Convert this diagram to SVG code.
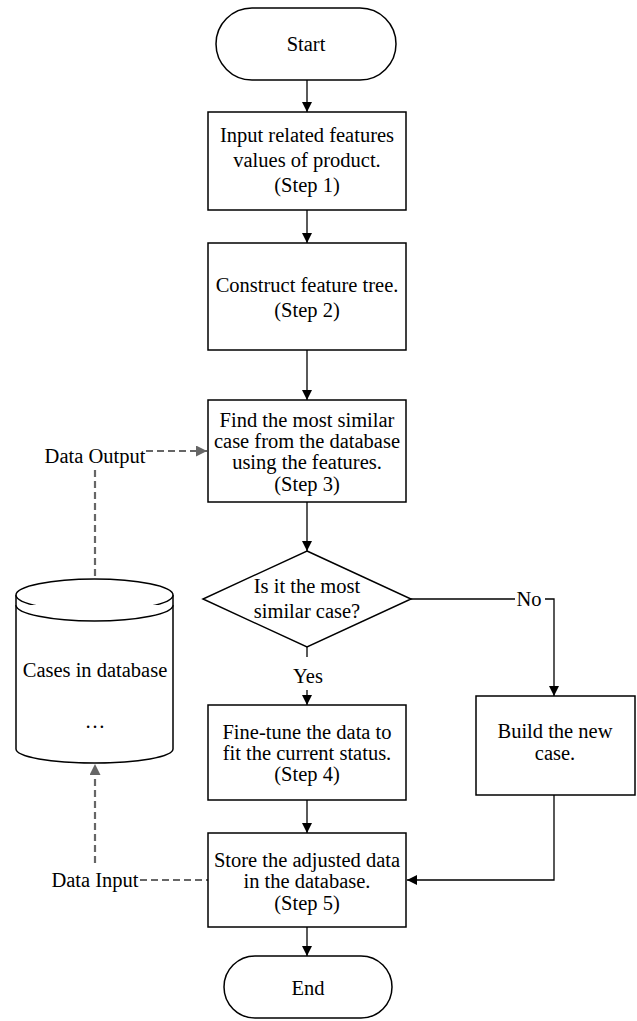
<svg xmlns="http://www.w3.org/2000/svg" width="637" height="1021" viewBox="0 0 637 1021">
  <style>
    .shape { fill: #ffffff; stroke: #000000; stroke-width: 1.5; }
    .txt { font-size: 20.5px; fill: #000000; text-anchor: middle; }
    .flow { fill: none; stroke: #000000; stroke-width: 1.3; }
    .data { fill: none; stroke: #666666; stroke-width: 2.2; stroke-dasharray: 7 4; }
  </style>
  <defs>
    <marker id="arrow" viewBox="0 0 10 10" refX="10" refY="5" markerWidth="10" markerHeight="10" markerUnits="userSpaceOnUse" orient="auto">
      <path d="M0,0 L10,5 L0,10 z" fill="#000000"/>
    </marker>
    <marker id="arrowGray" viewBox="0 0 10 10" refX="10" refY="5" markerWidth="11" markerHeight="11" markerUnits="userSpaceOnUse" orient="auto">
      <path d="M0,0 L10,5 L0,10 z" fill="#666666"/>
    </marker>
  </defs>
  <rect width="637" height="1021" fill="#ffffff"/>

  <g font-family="'Liberation Serif', 'DejaVu Serif', 'Times New Roman', serif">
  <!-- connectors -->
  <g id="connectors">
    <line class="flow" x1="307" y1="80" x2="307" y2="112" marker-end="url(#arrow)"/>
    <line class="flow" x1="307" y1="210" x2="307" y2="243" marker-end="url(#arrow)"/>
    <line class="flow" x1="307" y1="350" x2="307" y2="400" marker-end="url(#arrow)"/>
    <line class="flow" x1="307" y1="502" x2="307" y2="551" marker-end="url(#arrow)"/>
    <line class="flow" x1="307" y1="647" x2="307" y2="657"/>
    <text class="txt" x="308" y="683">Yes</text>
    <line class="flow" x1="307" y1="690" x2="307" y2="705" marker-end="url(#arrow)"/>
    <line class="flow" x1="307" y1="800" x2="307" y2="833" marker-end="url(#arrow)"/>
    <line class="flow" x1="307" y1="927" x2="307" y2="956" marker-end="url(#arrow)"/>
    <line class="flow" x1="411" y1="599" x2="515" y2="599"/>
    <text class="txt" x="529" y="606">No</text>
    <polyline class="flow" points="545,599 554,599 554,696" marker-end="url(#arrow)"/>
    <polyline class="flow" points="554,795 554,880 407,880" marker-end="url(#arrow)"/>
    <!-- database links -->
    <line class="data" x1="146" y1="451" x2="207" y2="451" marker-end="url(#arrowGray)"/>
    <text class="txt" x="95" y="463">Data Output</text>
    <line class="data" x1="95" y1="470" x2="95" y2="579"/>
    <line class="data" x1="95" y1="863" x2="95" y2="764" marker-end="url(#arrowGray)"/>
    <text class="txt" x="95" y="887">Data Input</text>
    <line class="data" x1="140" y1="880" x2="208" y2="880"/>
  </g>

  <g id="start">
    <rect class="shape" x="216" y="8" width="180" height="72" rx="36" ry="36"/>
    <text class="txt" x="306" y="51">Start</text>
  </g>

  <g id="step1">
    <rect class="shape" x="208" y="112" width="198" height="98"/>
    <text class="txt" x="307" y="142">Input related features</text>
    <text class="txt" x="307" y="167">values of product.</text>
    <text class="txt" x="307" y="192">(Step 1)</text>
  </g>

  <g id="step2">
    <rect class="shape" x="208" y="243" width="198" height="107"/>
    <text class="txt" x="307" y="292">Construct feature tree.</text>
    <text class="txt" x="307" y="317">(Step 2)</text>
  </g>

  <g id="step3">
    <rect class="shape" x="208" y="400" width="198" height="102"/>
    <text class="txt" x="307" y="427">Find the most similar</text>
    <text class="txt" x="307" y="448">case from the database</text>
    <text class="txt" x="307" y="469">using the features.</text>
    <text class="txt" x="307" y="491">(Step 3)</text>
  </g>

  <g id="decision">
    <polygon class="shape" points="307,551 411,599 307,647 203,599"/>
    <text class="txt" x="307" y="593">Is it the most</text>
    <text class="txt" x="307" y="618">similar case?</text>
  </g>

  <g id="step4">
    <rect class="shape" x="208" y="705" width="198" height="95"/>
    <text class="txt" x="307" y="739">Fine-tune the data to</text>
    <text class="txt" x="307" y="760">fit the current status.</text>
    <text class="txt" x="307" y="781">(Step 4)</text>
  </g>

  <g id="build">
    <rect class="shape" x="476" y="696" width="159" height="99"/>
    <text class="txt" x="555" y="738">Build the new</text>
    <text class="txt" x="555" y="760">case.</text>
  </g>

  <g id="step5">
    <rect class="shape" x="208" y="833" width="198" height="94"/>
    <text class="txt" x="307" y="867">Store the adjusted data</text>
    <text class="txt" x="307" y="888">in the database.</text>
    <text class="txt" x="307" y="910">(Step 5)</text>
  </g>

  <g id="end">
    <rect class="shape" x="224" y="956" width="168" height="62" rx="31" ry="31"/>
    <text class="txt" x="308" y="995">End</text>
  </g>

  <g id="database">
    <path class="shape" d="M16,595 L16,749 A78.5,14 0 0 0 173,749 L173,595 A78.5,16 0 0 0 16,595 Z"/>
    <path class="shape" d="M16,595 A78.5,16 0 0 0 173,595"/>
    <path class="shape" fill="none" d="M16,605 A78.5,16 0 0 0 173,605"/>
    <text class="txt" x="95" y="677">Cases in database</text>
    <text class="txt" x="95" y="728">…</text>
  </g>
  </g>
</svg>
